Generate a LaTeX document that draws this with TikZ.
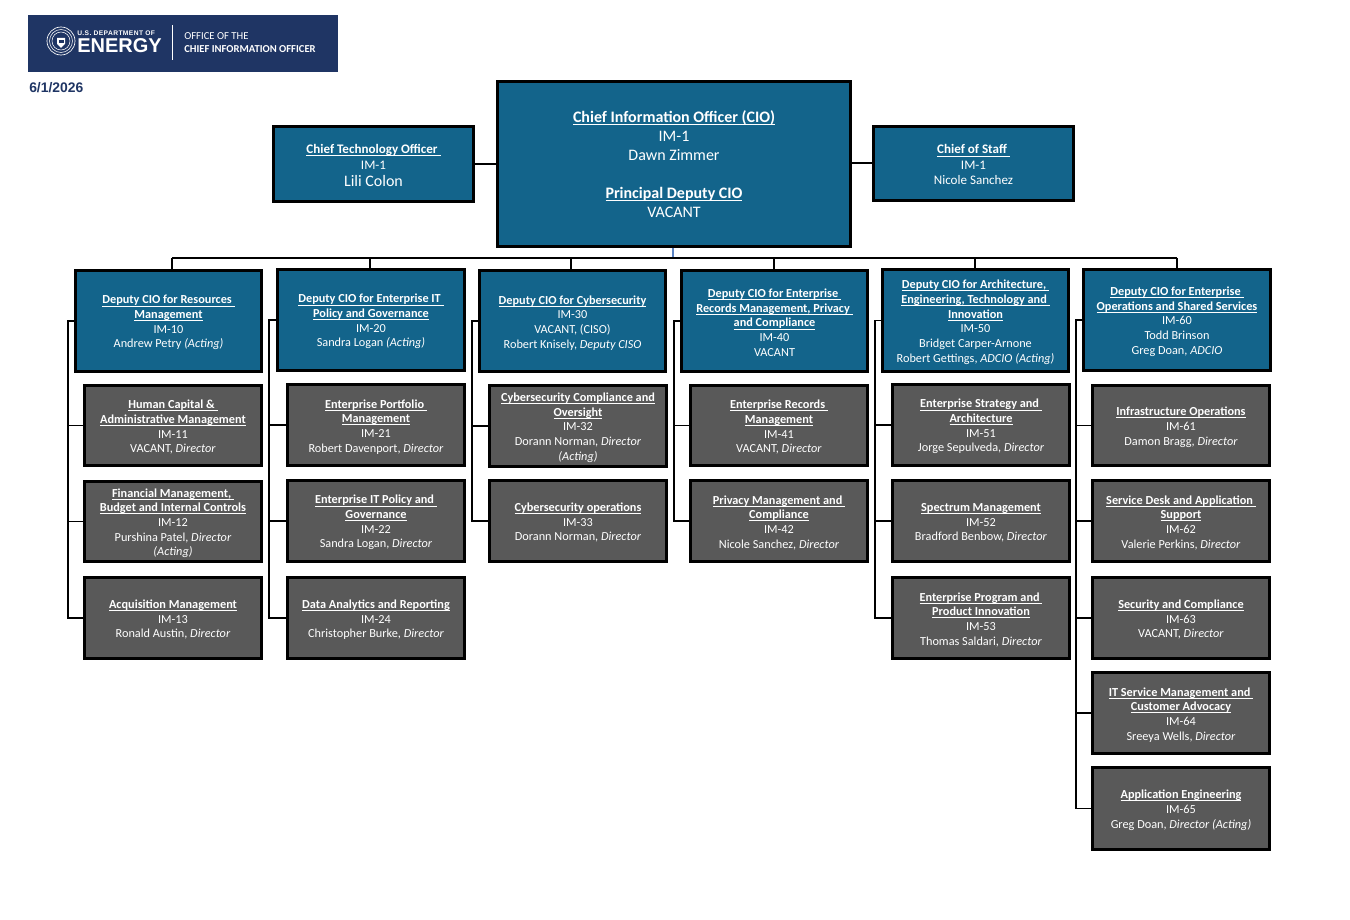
\documentclass[tikz,border=0pt]{standalone}
\usepackage{fontspec}
\setmainfont{Carlito}
\newfontfamily\arialf{Liberation Sans}
\definecolor{teal}{HTML}{13648B}
\definecolor{slate}{HTML}{595959}
\definecolor{navy}{HTML}{1F3564}
\definecolor{bluelink}{HTML}{5B84C4}
\newcommand{\ut}[1]{\underline{\smash{\textbf{#1}}}\vphantom{Ag}}
\newcommand{\orgbox}[7]{%
  \pgfmathsetmacro\bw{(#5-#3-3.4)*0.75}%
  \pgfmathsetmacro\bh{(#6-#4-3.4)*0.75}%
  \node[#2,minimum width=\bw pt,minimum height=\bh pt] (#1) at ({(#3+#5)/2},{(#4+#6)/2}) {\rule{0pt}{9pt}#7};}
\tikzset{
  orgnode/.style={draw=black,line width=2.55pt,text=white,align=center,inner sep=0pt,
    font=\fontsize{9.2}{11}\selectfont},
  deputy/.style={orgnode,fill=teal},
  office/.style={orgnode,fill=slate},
  chief/.style={orgnode,fill=teal,font=\fontsize{12}{14.25}\selectfont},
  staff/.style={orgnode,fill=teal,font=\fontsize{9.8}{11.6}\selectfont},
  link/.style={draw=black,line width=1.1pt},
  toplink/.style={draw=black,line width=1.5pt},
  logotext/.style={text=white,anchor=west,inner sep=0pt},
}
\begin{document}
\begin{tikzpicture}[x=0.75pt,y=-0.75pt]
\useasboundingbox (0,0) rectangle (1350,920);
% logo
\fill[navy] (28,15) rectangle (338,72);
\draw[white,line width=0.5pt] (61,41) circle (14);
\draw[white,line width=0.4pt] (61,41) circle (11.5);
\draw[white,line width=0.4pt] (61,41) circle (9);
\fill[white] (57,38) -- (65,38) -- (65,44) -- (61,48) -- (57,44) -- cycle;
\fill[navy] (58.5,40) rectangle (63.5,43);
\node[logotext] (lgdoe) at (77,33) {\arialf\bfseries\fontsize{5}{5}\selectfont\addfontfeature{LetterSpace=6}U.S. DEPARTMENT OF};
\node[logotext] (lgen) at (77,46) {\arialf\bfseries\fontsize{15}{15}\selectfont ENERGY};
\fill[white] (171.5,25) rectangle (173,60);
\node[logotext] (lgof) at (184,36.5) {\fontsize{8}{8}\selectfont OFFICE OF THE};
\node[logotext] (lgch) at (184,49.5) {\bfseries\fontsize{7.96}{8}\selectfont CHIEF INFORMATION OFFICER};
\node[anchor=west,inner sep=0pt,text=navy] (date) at (29,87.5) {\arialf\bfseries\fontsize{10.4}{11}\selectfont 6/1/2026};

% top boxes
\orgbox{cio}{chief}{496}{80}{852}{248}{\ut{Chief Information Officer (CIO)}\\IM-1\\Dawn Zimmer\\[14.25pt]\ut{Principal Deputy CIO}\\VACANT}
\orgbox{cto}{staff}{272}{125}{475}{203}{\ut{Chief Technology Officer\ }\\IM-1\\[1pt]{\fontsize{12}{12}\selectfont Lili Colon}}
\orgbox{cos}{staff}{872}{125}{1075}{202}{\ut{Chief of Staff\ }\\IM-1\\Nicole Sanchez}

% deputies
\orgbox{d1}{deputy}{74}{269}{263}{373}{\ut{Deputy CIO for Resources\ }\\\ut{Management}\\IM-10\\Andrew Petry \textit{(Acting)}}
\orgbox{d2}{deputy}{276}{268}{466}{372}{\ut{Deputy CIO for Enterprise IT\ }\\\ut{Policy and Governance}\\IM-20\\Sandra Logan \textit{(Acting)}}
\orgbox{d3}{deputy}{478}{269}{667}{373}{\ut{Deputy CIO for Cybersecurity}\\IM-30\\VACANT, (CISO)\\Robert Knisely, \textit{Deputy CISO}}
\orgbox{d4}{deputy}{680}{269}{869}{373}{\ut{Deputy CIO for Enterprise\ }\\\ut{Records Management, Privacy\ }\\\ut{and Compliance}\\IM-40\\VACANT}
\orgbox{d5}{deputy}{881}{268}{1070}{373}{\ut{Deputy CIO for Architecture,\ }\\\ut{Engineering, Technology and\ }\\\ut{Innovation}\\IM-50\\Bridget Carper-Arnone\\Robert Gettings, \textit{ADCIO (Acting)}}
\orgbox{d6}{deputy}{1082}{268}{1272}{372}{\ut{Deputy CIO for Enterprise\ }\\\ut{Operations and Shared Services}\\IM-60\\Todd Brinson\\Greg Doan, \textit{ADCIO}}

% column 1
\orgbox{s11}{office}{83}{384}{263}{467}{\ut{Human Capital \&\ }\\\ut{Administrative Management}\\IM-11\\VACANT, \textit{Director}}
\orgbox{s12}{office}{83}{480}{263}{563}{\ut{Financial Management,\ }\\\ut{Budget and Internal Controls}\\IM-12\\Purshina Patel, \textit{Director}\\\textit{(Acting)}}
\orgbox{s13}{office}{83}{576}{263}{660}{\ut{Acquisition Management}\\IM-13\\Ronald Austin, \textit{Director}}
% column 2
\orgbox{s21}{office}{286}{383}{466}{467}{\ut{Enterprise Portfolio\ }\\\ut{Management}\\IM-21\\Robert Davenport, \textit{Director}}
\orgbox{s22}{office}{286}{479}{466}{563}{\ut{Enterprise IT Policy and\ }\\\ut{Governance}\\IM-22\\Sandra Logan, \textit{Director}}
\orgbox{s24}{office}{286}{576}{466}{660}{\ut{Data Analytics and Reporting}\\IM-24\\Christopher Burke, \textit{Director}}
% column 3
\orgbox{s32}{office}{488}{384}{668}{468}{\ut{Cybersecurity Compliance and}\\\ut{Oversight}\\IM-32\\Dorann Norman, \textit{Director}\\\textit{(Acting)}}
\orgbox{s33}{office}{488}{479}{668}{563}{\ut{Cybersecurity operations}\\IM-33\\Dorann Norman, \textit{Director}}
% column 4
\orgbox{s41}{office}{689}{384}{869}{467}{\ut{Enterprise Records\ }\\\ut{Management}\\IM-41\\VACANT, \textit{Director}}
\orgbox{s42}{office}{689}{479}{869}{563}{\ut{Privacy Management and\ }\\\ut{Compliance}\\IM-42\\Nicole Sanchez, \textit{Director}}
% column 5
\orgbox{s51}{office}{891}{383}{1071}{467}{\ut{Enterprise Strategy and\ }\\\ut{Architecture}\\IM-51\\Jorge Sepulveda, \textit{Director}}
\orgbox{s52}{office}{891}{479}{1071}{563}{\ut{Spectrum Management}\\IM-52\\Bradford Benbow, \textit{Director}}
\orgbox{s53}{office}{891}{576}{1071}{660}{\ut{Enterprise Program and\ }\\\ut{Product Innovation}\\IM-53\\Thomas Saldari, \textit{Director}}
% column 6
\orgbox{s61}{office}{1091}{384}{1271}{467}{\ut{Infrastructure Operations}\\IM-61\\Damon Bragg, \textit{Director}}
\orgbox{s62}{office}{1091}{479}{1271}{563}{\ut{Service Desk and Application\ }\\\ut{Support}\\IM-62\\Valerie Perkins, \textit{Director}}
\orgbox{s63}{office}{1091}{576}{1271}{660}{\ut{Security and Compliance}\\IM-63\\VACANT, \textit{Director}}
\orgbox{s64}{office}{1091}{671}{1271}{755}{\ut{IT Service Management and\ }\\\ut{Customer Advocacy}\\IM-64\\Sreeya Wells, \textit{Director}}
\orgbox{s65}{office}{1091}{766}{1271}{851}{\ut{Application Engineering}\\IM-65\\Greg Doan, \textit{Director (Acting)}}

% connectors: top
\draw[toplink] (cto.east) -- (cio.west |- cto.east);
\draw[toplink] (cos.west) -- (cio.east |- cos.west);
\coordinate (bus) at (673,258);
\draw[draw=bluelink,line width=0.8pt] (cio.south -| bus) -- (bus);
\coordinate (t1) at (172,258);
\coordinate (t2) at (370,258);
\coordinate (t3) at (571,258);
\coordinate (t4) at (774,258);
\coordinate (t5) at (975,258);
\coordinate (t6) at (1177,258);
\draw[toplink] (t1) -- (t6);
\foreach \i in {1,...,6} \draw[link] (t\i) -- (t\i |- d\i.north);

% connectors: side rails
\coordinate (r1) at (68,320);
\coordinate (r2) at (269,320);
\coordinate (r3) at (472,320);
\coordinate (r4) at (674,320);
\coordinate (r5) at (875,320);
\coordinate (r6) at (1076,320);
\foreach \d/\s in {1/11,1/12,1/13,2/21,2/22,2/24,3/32,3/33,4/41,4/42,5/51,5/52,5/53,6/61,6/62,6/63,6/64,6/65}
  \draw[link] (d\d.west) -- (d\d.west -| r\d) |- (s\s.west);
\end{tikzpicture}
\end{document}
